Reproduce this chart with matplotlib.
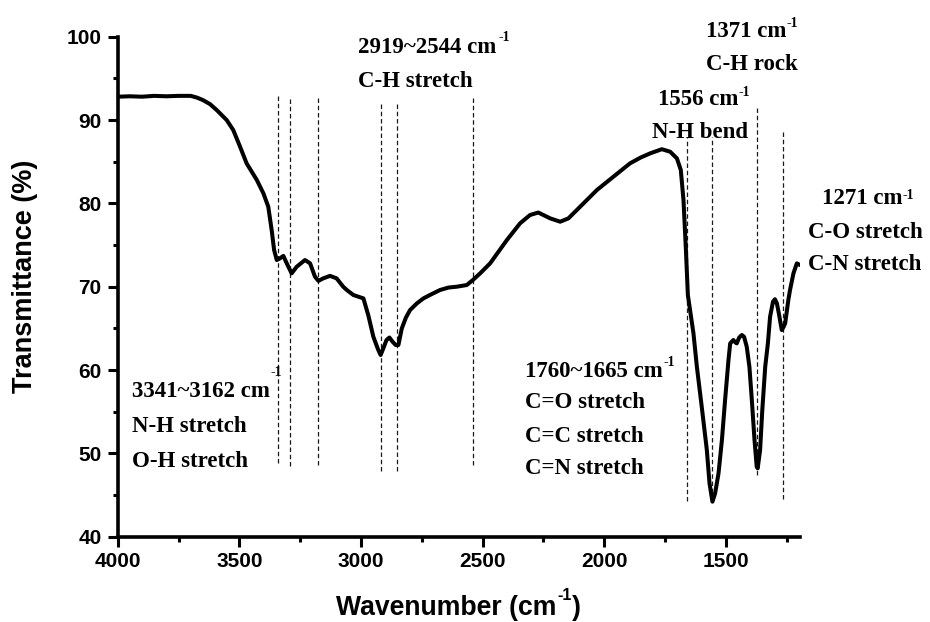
import matplotlib
matplotlib.use("Agg")
import matplotlib.pyplot as plt
from matplotlib.ticker import MultipleLocator
from matplotlib.font_manager import FontProperties

# FTIR transmittance spectrum (wavenumber in cm^-1, transmittance in %)
wavenumber = [4000, 3950, 3900, 3850, 3800, 3750, 3700, 3675, 3650, 3620,
              3593, 3552, 3525, 3497, 3470, 3428, 3401, 3381, 3367, 3357,
              3346, 3333, 3319, 3305, 3285, 3264, 3230, 3209, 3189, 3175,
              3155, 3127, 3100, 3073, 3058, 3031, 2990, 2970, 2949, 2930,
              2919, 2908, 2895, 2883, 2870, 2857, 2846, 2832, 2815, 2798,
              2770, 2743, 2710, 2675, 2640, 2606, 2565, 2540, 2510, 2469,
              2400, 2346, 2305, 2271, 2222, 2181, 2147, 2085, 2030, 1962,
              1894, 1850, 1811, 1763, 1729, 1701, 1685, 1674, 1664, 1656,
              1645, 1633, 1619, 1599, 1578, 1567, 1555, 1544, 1530, 1516,
              1503, 1489, 1482, 1469, 1460, 1455, 1445, 1434, 1425, 1414,
              1403, 1393, 1382, 1373, 1369, 1359, 1350, 1338, 1327, 1318,
              1306, 1298, 1290, 1282, 1270, 1262, 1256, 1243, 1236, 1222,
              1208, 1195]
transmittance = [92.8, 92.85, 92.8, 92.9, 92.85, 92.9, 92.9, 92.7, 92.4, 91.9,
                 91.2, 90.0, 88.8, 86.8, 84.8, 82.8, 81.2, 79.6, 76.8, 74.4,
                 73.2, 73.4, 73.7, 72.8, 71.6, 72.4, 73.2, 72.8, 71.2, 70.7,
                 71.0, 71.3, 71.0, 70.0, 69.6, 69.0, 68.6, 66.6, 64.0, 62.5,
                 61.8, 62.6, 63.6, 63.9, 63.4, 63.0, 63.0, 65.0, 66.3, 67.2,
                 68.0, 68.6, 69.1, 69.6, 69.9, 70.0, 70.2, 70.8, 71.6, 72.8,
                 75.6, 77.6, 78.6, 78.9, 78.2, 77.8, 78.2, 80.0, 81.6, 83.2,
                 84.8, 85.5, 86.0, 86.5, 86.2, 85.4, 84.0, 80.4, 74.4, 69.0,
                 66.8, 64.4, 60.4, 55.6, 50.4, 46.4, 44.2, 45.2, 47.6, 51.6,
                 56.4, 61.2, 63.2, 63.6, 63.3, 63.2, 63.9, 64.2, 64.0, 62.8,
                 60.4, 56.4, 51.6, 48.4, 48.2, 50.4, 55.2, 60.4, 63.2, 66.4,
                 68.2, 68.5, 68.0, 66.8, 64.8, 65.2, 65.6, 68.4, 69.6, 71.6,
                 72.8, 72.6]

# Band marker lines: position, lower end, upper end (transmittance %)
band_positions = [3341, 3290, 3175, 2919, 2850, 2540, 1660, 1556, 1371, 1265]
band_lows = [48.8, 48.5, 48.6, 47.9, 47.9, 48.6, 44.3, 44.4, 47.4, 44.5]
band_highs = [92.9, 92.7, 92.7, 92.1, 92.1, 92.8, 87.8, 88.0, 91.6, 88.7]

# Band assignment labels
label_heads = ["3341~3162 cm", "2919~2544 cm", "1760~1665 cm",
               "1556 cm", "1371 cm", "1271 cm"]
label_lines = [["N-H stretch", "O-H stretch"],
               ["C-H stretch"],
               ["C=O stretch", "C=C stretch", "C=N stretch"],
               ["N-H bend"],
               ["C-H rock"],
               ["C-O stretch", "C-N stretch"]]

x_ticks = [4000, 3500, 3000, 2500, 2000, 1500]
y_ticks = [40, 50, 60, 70, 80, 90, 100]

W, H = 930, 622
fig = plt.figure(figsize=(W / 100, H / 100), dpi=100)
ax_l, ax_r, ax_t, ax_b = 117.7, 800.0, 36.7, 536.7
ax = fig.add_axes([ax_l / W, 1 - ax_b / H, (ax_r - ax_l) / W, (ax_b - ax_t) / H])

x_min, x_max = 4000, 1195
y_min, y_max = 40, 100
ax.set_xlim(x_min, x_max)
ax.set_ylim(y_min, y_max)


def px_to_data(px, py):
    wn = x_min + (px - ax_l) / (ax_r - ax_l) * (x_max - x_min)
    t = y_max - (py - ax_t) / (ax_b - ax_t) * (y_max - y_min)
    return wn, t


# band marker lines
for pos, lo, hi in zip(band_positions, band_lows, band_highs):
    ax.plot([pos, pos], [lo, hi], color="#1a1a1a", lw=0.9,
            linestyle=(0, (3.6, 2.2)), zorder=1)

# spectrum
ax.plot(wavenumber, transmittance, color="black", lw=2.9,
        solid_joinstyle="round", solid_capstyle="round", zorder=3)

# spines and ticks
for side in ["top", "right"]:
    ax.spines[side].set_visible(False)
for side in ["left", "bottom"]:
    ax.spines[side].set_linewidth(2.6)

ax.set_xticks(x_ticks)
ax.set_yticks(y_ticks)
ax.xaxis.set_minor_locator(MultipleLocator(250))
ax.yaxis.set_minor_locator(MultipleLocator(5))
ax.tick_params(which="major", direction="out", length=7.5, width=2.2)
ax.tick_params(which="minor", direction="out", length=3.8, width=2.2)
ax.tick_params(axis="x", which="major", pad=3.5)
ax.tick_params(axis="y", which="major", pad=4)

tick_fp = FontProperties(family="Liberation Sans", weight="bold", size=15)
for lab in ax.get_xticklabels() + ax.get_yticklabels():
    lab.set_fontproperties(tick_fp)

# x-axis title assembled from pieces so the exponent keeps a plain hyphen
sans = dict(family="Liberation Sans", weight="bold")
xt = fig.text(336 / W, 1 - 615 / H, "Wavenumber (cm", ha="left",
              va="baseline", size=19.2, **sans)
xsup = ax.annotate("-1", xy=(1, 0), xycoords=xt, xytext=(1, 18),
                   textcoords="offset pixels", ha="left", va="bottom",
                   size=11.5, annotation_clip=False, **sans)
ax.annotate(")", xy=(1, 0), xycoords=xsup, xytext=(0, -18),
            textcoords="offset pixels", ha="left", va="bottom",
            size=19.2, annotation_clip=False, **sans)

ax.set_ylabel("Transmittance (%)", size=19.5, va="center", **sans)
ax.yaxis.set_label_coords((25 - ax_l) / (ax_r - ax_l), (ax_b - 276) / (ax_b - ax_t))

# label layout in pixels: head (left, baseline), exponent offset, body lines
head_px = [(132.3, 396.7), (358.3, 53.3), (525.0, 376.7),
           (658.3, 105.0), (706.0, 37.3), (821.7, 204.0)]
sup_offset = [(0, 23), (2, 14), (1, 13), (0, 11), (0, 12), (0, 7)]
body_px = [[(132.3, 431.7), (132.3, 466.7)],
           [(358.3, 86.7)],
           [(525.0, 408.3), (525.0, 441.7), (525.0, 474.0)],
           [(651.7, 137.7)],
           [(706.0, 70.0)],
           [(808.3, 238.3), (808.3, 270.0)]]

serif = dict(family="Liberation Serif", weight="bold", size=16.5)
for head, hp, so, lines, bp in zip(label_heads, head_px, sup_offset,
                                   label_lines, body_px):
    hx, hy = px_to_data(*hp)
    t = ax.text(hx, hy, head, ha="left", va="baseline", clip_on=False, **serif)
    ax.annotate("-1", xy=(1, 0), xycoords=t, xytext=so,
                textcoords="offset pixels", ha="left", va="bottom",
                family="Liberation Serif", weight="bold", size=10,
                annotation_clip=False)
    for line, (lx, ly) in zip(lines, bp):
        dx, dy = px_to_data(lx, ly)
        ax.text(dx, dy, line, ha="left", va="baseline", clip_on=False, **serif)

fig.savefig("out.png", dpi=100)
